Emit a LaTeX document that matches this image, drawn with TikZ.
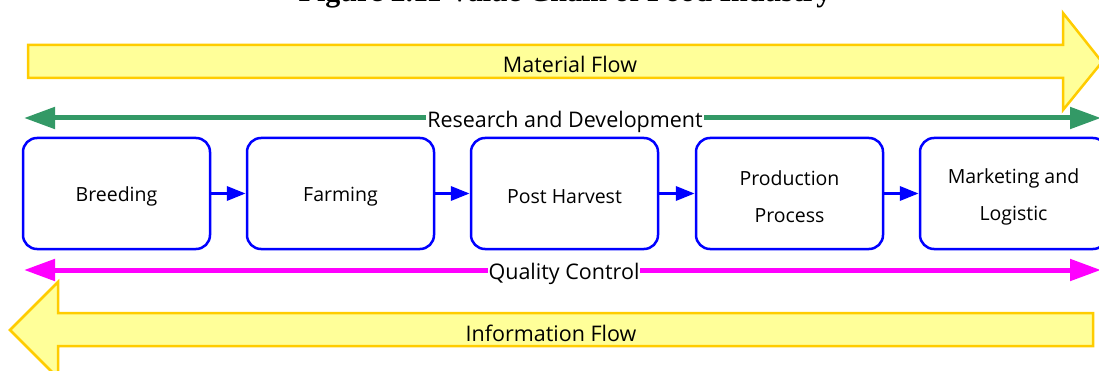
\documentclass[tikz,border=0pt]{standalone}
\usepackage{fontspec}
\setmainfont{Liberation Serif}
\newfontfamily\boxfont{Open Sans}
\usetikzlibrary{arrows.meta}
\definecolor{flowfill}{HTML}{FFFF99}
\definecolor{flowline}{HTML}{FFCC00}
\definecolor{rdgreen}{HTML}{339966}
\definecolor{qcpink}{HTML}{FF00FF}
\definecolor{stageblue}{HTML}{0000FF}
\tikzset{
  flow/.style={fill=flowfill, draw=flowline, line width=2.5pt, line join=miter},
  flowlabel/.style={font=\boxfont\fontsize{21.5}{24}\selectfont},
  band/.style={line width=5pt, {Triangle[length=31pt,width=21pt]}-{Triangle[length=31pt,width=21pt]}},
  bandlabel/.style={fill=white, inner sep=1pt, font=\boxfont\fontsize{21.5}{24}\selectfont},
  stage/.style={draw=stageblue, line width=2.5pt, rounded corners=14pt, minimum width=187pt,
    minimum height=111pt},
  stagetext/.style={align=center, yshift=-3pt, font=\boxfont\fontsize{19.5}{37}\selectfont},
  link/.style={draw=stageblue, line width=3.5pt, -{Triangle[length=19pt,width=14pt]}}
}
\begin{document}
\begin{tikzpicture}[x=1pt,y=-1pt]
\useasboundingbox (0,0) rectangle (1099,371);

% caption, partly above the page
\node[anchor=base, font=\bfseries\fontsize{30}{33}\selectfont] (caption) at (565,2) {Figure 2.11 Value Chain of Food Industry};

% material flow (left to right)
\draw[flow] (28,45) -- (1063,45) -- (1063,13) -- (1102,62) -- (1063,110) -- (1063,78) -- (28,78) -- cycle;
\node[flowlabel] (material) at (570,64) {Material Flow};

% research and development band
\coordinate (rdL) at (24,118);
\coordinate (rdR) at (1101,118);
\draw[band, rdgreen] (rdL) -- (rdR);
\node[bandlabel] (rd) at (565,122) {Research and Development};

% value chain stages
\node[stage] (s1) at (116.5,193.5) {};
\node[stage] (s2) at (340.5,193.5) {};
\node[stage] (s3) at (564.5,193.5) {};
\node[stage] (s4) at (789.5,193.5) {};
\node[stage] (s5) at (1013.5,193.5) {};
\node[stagetext] (t1) at (s1) {Breeding};
\node[stagetext] (t2) at (s2) {Farming};
\node[stagetext] (t3) at (s3) {Post Harvest};
\node[stagetext] (t4) at (s4) {Production\\Process};
\node[stagetext] (t5) at (s5) {Marketing and\\Logistic};
\draw[link] (s1) -- (s2);
\draw[link] (s2) -- (s3);
\draw[link] (s3) -- (s4);
\draw[link] (s4) -- (s5);

% quality control band
\coordinate (qcL) at (24,270);
\coordinate (qcR) at (1101,270);
\draw[band, qcpink] (qcL) -- (qcR);
\node[bandlabel] (qc) at (564,274) {Quality Control};

% information flow (right to left)
\draw[flow] (1093,313) -- (58,313) -- (58,282) -- (10,330) -- (58,378) -- (58,346) -- (1093,346) -- cycle;
\node[flowlabel] (information) at (551,333) {Information Flow};
\end{tikzpicture}
\end{document}
